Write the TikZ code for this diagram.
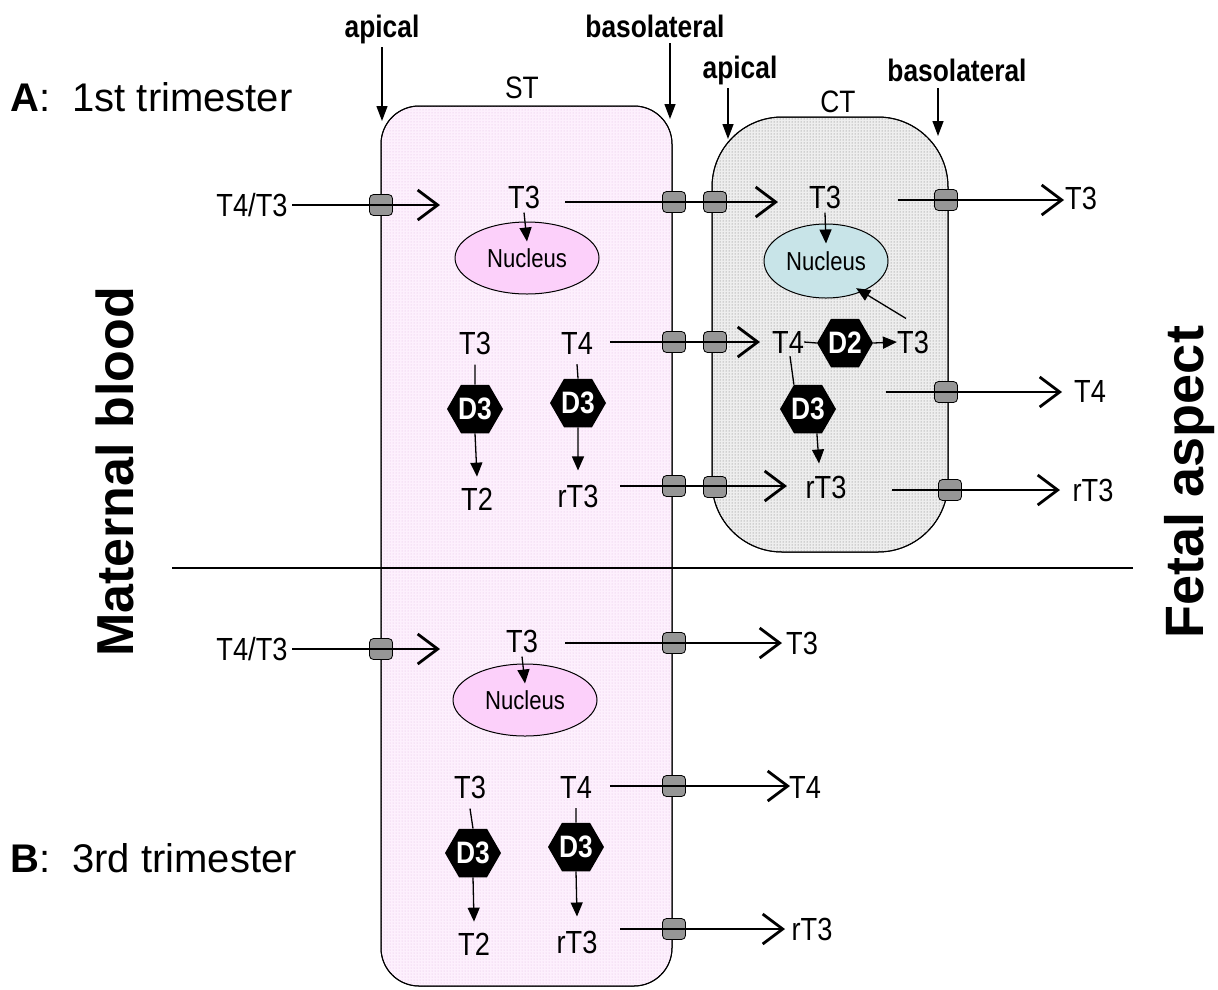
\documentclass[tikz,border=0pt]{standalone}
\usepackage{fontspec}
\setmainfont{Liberation Sans}
\newfontfamily\nar[FakeStretch=0.85]{Liberation Sans}
\usetikzlibrary{arrows.meta,shapes.geometric,patterns}
\definecolor{stpink}{RGB}{253,240,253}
\definecolor{stdot}{RGB}{225,185,225}
\definecolor{ctbase}{RGB}{238,238,238}
\definecolor{ctdot}{RGB}{110,110,110}
\definecolor{nucpink}{RGB}{252,208,250}
\definecolor{nucblue}{RGB}{200,228,232}
\definecolor{tgray}{RGB}{150,150,150}
\tikzset{
  lbl/.style={font=\nar\fontsize{32}{34}\selectfont, inner sep=0pt},
  memlbl/.style={font=\nar\bfseries\fontsize{31}{33}\selectfont, inner sep=0pt},
  celllbl/.style={font=\nar\fontsize{31}{33}\selectfont, inner sep=0pt},
  nuc/.style={ellipse, draw, line width=1pt, minimum width=144pt, minimum height=72pt,
    font=\nar\fontsize{26}{28}\selectfont, inner sep=0pt},
  enz/.style={regular polygon, regular polygon sides=6, fill=black, minimum size=56pt,
    inner sep=0pt, text=white, font=\nar\bfseries\fontsize{31}{33}\selectfont},
  transp/.style={rectangle, rounded corners=4pt, draw=black, line width=0.8pt, fill=tgray,
    minimum width=23pt, minimum height=21pt, inner sep=0pt},
  bigarrow/.style={line width=2.8pt, -{Straight Barb[length=20pt,width=30pt]}},
  smallarrow/.style={line width=1.3pt, -{Triangle[length=14pt,width=12pt]}},
  thinline/.style={line width=1.3pt},
  memarrow/.style={line width=1.3pt, -{Triangle[length=15pt,width=11pt]}},
  biglbl/.style={font=\fontsize{40}{44}\selectfont, inner sep=0pt, anchor=west},
  sidelbl/.style={font=\bfseries\fontsize{52}{56}\selectfont, inner sep=0pt, rotate=90}
}
\begin{document}
\begin{tikzpicture}[x=1pt,y=-1pt]
\useasboundingbox (0,0) rectangle (1218,989);
\fill[white] (0,0) rectangle (1218,989);
% cells
\draw[line width=1pt, fill=stpink, rounded corners=38pt] (381,106) rectangle (672,986);
\fill[pattern=dots, pattern color=stdot, rounded corners=38pt] (381,106) rectangle (672,986);
\draw[line width=1pt, rounded corners=38pt] (381,106) rectangle (672,986);
\draw[line width=1pt, fill=ctbase, rounded corners=70pt] (712,117) rectangle (948,552);
\fill[pattern=dots, pattern color=ctdot, rounded corners=70pt] (712,117) rectangle (948,552);
\draw[line width=1pt, rounded corners=70pt] (712,117) rectangle (948,552);
% divider
\draw[line width=1.2pt] (172,568) -- (1133,568);
% headings
\node[biglbl] (labA) at (10,97) {\textbf{A}:~~1st trimester};
\node[biglbl] (labB) at (10,858) {\textbf{B}:~~3rd trimester};
\node[sidelbl] (mat) at (115,472) {Maternal blood};
\node[sidelbl, font=\bfseries\fontsize{54}{58}\selectfont] (fet) at (1190,482) {Fetal aspect};
% membrane labels
\node[memlbl] (apST) at (382,29) {apical};
\node[memlbl] (baST) at (655,26) {basolateral};
\node[memlbl] (apCT) at (740,70) {apical};
\node[memlbl] (baCT) at (957,70) {basolateral};
\node[celllbl] (ST) at (522,88) {ST};
\node[celllbl] (CT) at (838,102) {CT};
\coordinate (apSTe) at (382,121);
\coordinate (baSTe) at (670,119);
\coordinate (apCTe) at (728,139);
\coordinate (baCTe) at (938,136);
\draw[memarrow] (apST.south |- 0,47) -- (apSTe);
\draw[memarrow] (baSTe |- 0,43) -- (baSTe);
\draw[memarrow] (apCTe |- 0,88) -- (apCTe);
\draw[memarrow] (baCTe |- 0,88) -- (baCTe);
% transporters
\foreach \n/\x/\y in {ta1/381/205, ta2/674/202, ta3/715/202, ta4/946/200,
  tb1/674/342, tb2/715/342, tb3/946/392,
  tc1/674/486, tc2/715/487, tc3/950/490,
  td1/381/649, td2/674/643, te1/674/786, tf1/674/929}
  \node[transp] (\n) at (\x,\y) {};
% ---------- A: 1st trimester ----------
\node[lbl] (t4t3A) at (252,205) {T4/T3};
\node[lbl] (stT3A) at (524,197) {T3};
\node[nuc, fill=nucpink] (nucA) at (527,258) {Nucleus};
\node[lbl] (ctT3A) at (825,197) {T3};
\node[nuc, fill=nucblue, minimum width=124pt, minimum height=74pt] (nucC) at (826,261) {Nucleus};
\node[lbl] (outT3A) at (1081,198) {T3};
\coordinate (a1s) at (292,205); \coordinate (a1e) at (440,205);
\coordinate (a2s) at (565,202); \coordinate (a2e) at (778,202);
\coordinate (a3s) at (898,200); \coordinate (a3e) at (1064,200);
\draw[bigarrow] (a1s) -- (a1e);
\draw[bigarrow] (a2s) -- (a2e);
\draw[bigarrow] (a3s) -- (a3e);
\draw[smallarrow] ([yshift=-4pt]stT3A.south) -- ([yshift=-20pt]nucA.north);
\draw[smallarrow] ([yshift=-4pt]ctT3A.south) -- ([yshift=-20pt]nucC.north);
% ST metabolism
\node[lbl] (stT3b) at (475,343) {T3};
\node[lbl] (stT4b) at (577,343) {T4};
\node[enz] (d3a) at (475,409) {D3};
\node[enz] (d3b) at (578,403) {D3};
\node[lbl] (t2a) at (477,499) {T2};
\node[lbl] (rt3a) at (578,496) {rT3};
\draw[thinline] ([yshift=-10pt]stT3b.south) -- (d3a.north);
\draw[thinline] ([yshift=-10pt]stT4b.south) -- (d3b.north);
\draw[smallarrow] (d3a.south) -- ([yshift=11pt]t2a.north);
\draw[smallarrow] (d3b.south) -- ([yshift=14pt]rt3a.north);
% CT metabolism
\node[lbl] (ctT4) at (788,342) {T4};
\node[enz] (d2) at (845,343) {D2};
\node[lbl] (ctT3c) at (913,342) {T3};
\node[enz] (d3c) at (808,409) {D3};
\node[lbl] (ctrT3) at (826,487) {rT3};
\draw[thinline] (ctT4.east) -- (d2.west);
\draw[smallarrow] (d2.east) -- (ctT3c.west);
\draw[thinline] ([shift={(2pt,-3pt)}]ctT4.south) -- (d3c.120);
\draw[smallarrow] (d3c.-70) -- ([shift={(-7pt,12pt)}]ctrT3.north);
\draw[smallarrow] ([shift={(-7pt,12pt)}]ctT3c.north) -- ([shift={(-2pt,5pt)}]nucC.-45);
% A row 2 and 3 transport
\node[lbl] (outT4A) at (1090,391) {T4};
\node[lbl] (outrT3A) at (1093,490) {rT3};
\coordinate (b1s) at (610,342); \coordinate (b1e) at (760,342);
\coordinate (b2s) at (886,392); \coordinate (b2e) at (1062,392);
\coordinate (c1s) at (620,486); \coordinate (c1e) at (787,486);
\coordinate (c2s) at (892,490); \coordinate (c2e) at (1060,490);
\draw[bigarrow] (b1s) -- (b1e);
\draw[bigarrow] (b2s) -- (b2e);
\draw[bigarrow] (c1s) -- (c1e);
\draw[bigarrow] (c2s) -- (c2e);
% ---------- B: 3rd trimester ----------
\node[lbl] (t4t3B) at (252,649) {T4/T3};
\node[lbl] (stT3B) at (522,641) {T3};
\node[nuc, fill=nucpink] (nucB) at (525,700) {Nucleus};
\node[lbl] (outT3B) at (802,643) {T3};
\coordinate (d1s) at (292,649); \coordinate (d1e) at (440,649);
\coordinate (d2s) at (565,643); \coordinate (d2e) at (782,643);
\draw[bigarrow] (d1s) -- (d1e);
\draw[bigarrow] (d2s) -- (d2e);
\draw[smallarrow] ([yshift=-4pt]stT3B.south) -- ([yshift=-20pt]nucB.north);
\node[lbl] (stT3d) at (470,787) {T3};
\node[lbl] (stT4d) at (576,787) {T4};
\node[enz] (d3d) at (473,853) {D3};
\node[enz] (d3e) at (576,847) {D3};
\node[lbl] (t2d) at (474,944) {T2};
\node[lbl] (rt3d) at (577,942) {rT3};
\draw[thinline] ([yshift=-10pt]stT3d.south) -- (d3d.north);
\draw[thinline] ([yshift=-10pt]stT4d.south) -- (d3e.north);
\draw[smallarrow] (d3d.south) -- ([yshift=11pt]t2d.north);
\draw[smallarrow] (d3e.south) -- ([yshift=14pt]rt3d.north);
\node[lbl] (outT4B) at (805,787) {T4};
\node[lbl] (outrT3B) at (812,929) {rT3};
\coordinate (e1s) at (610,786); \coordinate (e1e) at (790,786);
\coordinate (f1s) at (620,929); \coordinate (f1e) at (785,929);
\draw[bigarrow] (e1s) -- (e1e);
\draw[bigarrow] (f1s) -- (f1e);
\end{tikzpicture}
\end{document}
